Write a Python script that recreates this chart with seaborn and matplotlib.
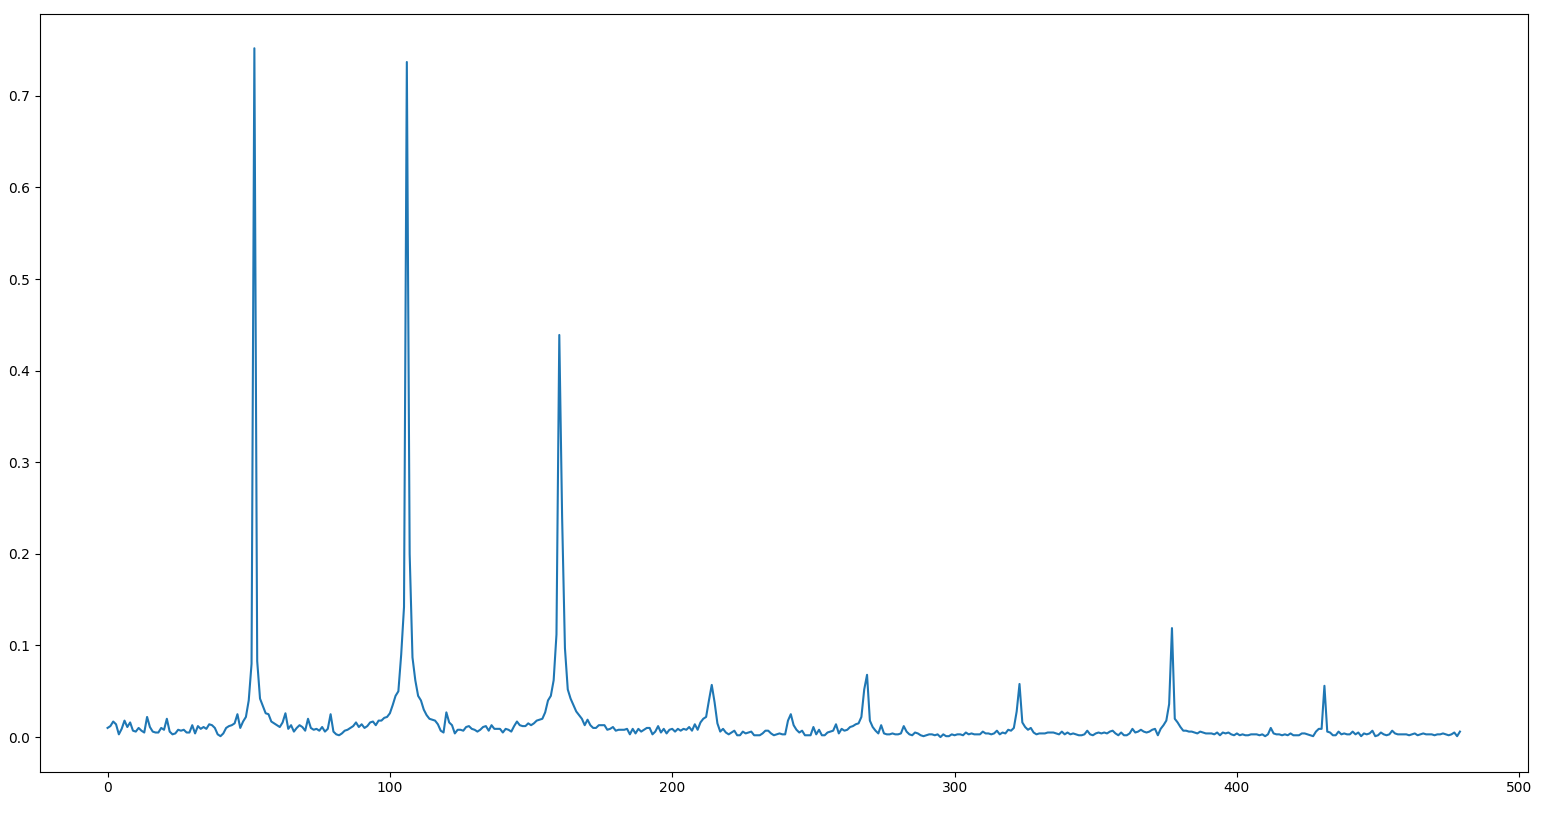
import matplotlib
matplotlib.use("Agg")
import matplotlib.pyplot as plt
import numpy as np
import seaborn as sns

# spectrum magnitude, one value per bin
magnitude = [
    0.010, 0.012, 0.017, 0.014, 0.003, 0.009, 0.018, 0.011, 0.016, 0.007,
    0.006, 0.010, 0.007, 0.005, 0.022, 0.011, 0.006, 0.005, 0.005, 0.010,
    0.008, 0.020, 0.006, 0.003, 0.004, 0.008, 0.007, 0.008, 0.005, 0.005,
    0.013, 0.004, 0.012, 0.009, 0.011, 0.009, 0.014, 0.013, 0.010, 0.003,
    0.001, 0.004, 0.010, 0.012, 0.013, 0.015, 0.025, 0.010, 0.017, 0.022,
    0.040, 0.080, 0.752, 0.083, 0.042, 0.034, 0.026, 0.025, 0.017, 0.015,
    0.013, 0.011, 0.016, 0.026, 0.009, 0.013, 0.006, 0.010, 0.013, 0.011,
    0.007, 0.020, 0.010, 0.008, 0.009, 0.007, 0.011, 0.006, 0.009, 0.025,
    0.006, 0.003, 0.002, 0.004, 0.007, 0.008, 0.010, 0.012, 0.016, 0.011,
    0.014, 0.010, 0.012, 0.016, 0.017, 0.013, 0.018, 0.018, 0.021, 0.022,
    0.026, 0.035, 0.045, 0.050, 0.090, 0.142, 0.737, 0.200, 0.087, 0.062,
    0.045, 0.040, 0.030, 0.024, 0.020, 0.019, 0.018, 0.014, 0.007, 0.005,
    0.027, 0.016, 0.013, 0.004, 0.008, 0.008, 0.007, 0.011, 0.012, 0.009,
    0.008, 0.006, 0.008, 0.011, 0.012, 0.007, 0.013, 0.009, 0.009, 0.009,
    0.005, 0.009, 0.008, 0.006, 0.012, 0.017, 0.013, 0.012, 0.012, 0.015,
    0.013, 0.015, 0.018, 0.019, 0.020, 0.027, 0.040, 0.045, 0.062, 0.112,
    0.439, 0.240, 0.097, 0.052, 0.042, 0.035, 0.028, 0.024, 0.020, 0.013,
    0.019, 0.013, 0.010, 0.010, 0.013, 0.013, 0.013, 0.008, 0.009, 0.011,
    0.007, 0.008, 0.008, 0.008, 0.009, 0.003, 0.009, 0.004, 0.009, 0.006,
    0.008, 0.010, 0.010, 0.003, 0.006, 0.012, 0.005, 0.009, 0.004, 0.008,
    0.009, 0.006, 0.009, 0.007, 0.009, 0.008, 0.011, 0.007, 0.014, 0.008,
    0.016, 0.020, 0.022, 0.040, 0.057, 0.038, 0.015, 0.006, 0.009, 0.005,
    0.003, 0.005, 0.007, 0.002, 0.002, 0.006, 0.004, 0.005, 0.006, 0.002,
    0.002, 0.002, 0.004, 0.007, 0.007, 0.004, 0.002, 0.003, 0.004, 0.003,
    0.003, 0.018, 0.025, 0.013, 0.008, 0.005, 0.007, 0.002, 0.002, 0.002,
    0.011, 0.003, 0.008, 0.002, 0.002, 0.005, 0.006, 0.007, 0.014, 0.004,
    0.009, 0.007, 0.008, 0.011, 0.012, 0.014, 0.015, 0.022, 0.052, 0.068,
    0.018, 0.011, 0.007, 0.004, 0.013, 0.004, 0.003, 0.003, 0.004, 0.003,
    0.003, 0.004, 0.012, 0.006, 0.003, 0.002, 0.005, 0.004, 0.002, 0.001,
    0.002, 0.003, 0.003, 0.002, 0.003, 0.000, 0.003, 0.001, 0.001, 0.003,
    0.002, 0.003, 0.003, 0.002, 0.005, 0.003, 0.004, 0.003, 0.003, 0.003,
    0.006, 0.004, 0.004, 0.003, 0.004, 0.007, 0.003, 0.005, 0.004, 0.008,
    0.007, 0.010, 0.028, 0.058, 0.016, 0.011, 0.008, 0.010, 0.005, 0.003,
    0.004, 0.004, 0.004, 0.005, 0.005, 0.005, 0.004, 0.003, 0.006, 0.003,
    0.005, 0.003, 0.004, 0.003, 0.002, 0.002, 0.003, 0.007, 0.003, 0.002,
    0.004, 0.005, 0.004, 0.005, 0.004, 0.006, 0.007, 0.004, 0.002, 0.005,
    0.002, 0.002, 0.004, 0.009, 0.005, 0.006, 0.008, 0.006, 0.005, 0.006,
    0.008, 0.009, 0.002, 0.009, 0.013, 0.018, 0.036, 0.119, 0.020, 0.016,
    0.011, 0.007, 0.007, 0.006, 0.006, 0.005, 0.004, 0.006, 0.005, 0.004,
    0.004, 0.004, 0.003, 0.005, 0.002, 0.005, 0.004, 0.005, 0.003, 0.002,
    0.004, 0.002, 0.003, 0.002, 0.002, 0.003, 0.003, 0.003, 0.002, 0.003,
    0.001, 0.003, 0.010, 0.004, 0.003, 0.003, 0.002, 0.003, 0.002, 0.004,
    0.002, 0.002, 0.002, 0.004, 0.004, 0.003, 0.002, 0.001, 0.006, 0.009,
    0.009, 0.056, 0.006, 0.005, 0.002, 0.002, 0.006, 0.003, 0.004, 0.003,
    0.003, 0.006, 0.003, 0.005, 0.001, 0.004, 0.003, 0.004, 0.007, 0.001,
    0.002, 0.005, 0.003, 0.002, 0.003, 0.007, 0.004, 0.003, 0.003, 0.003,
    0.003, 0.002, 0.003, 0.004, 0.002, 0.003, 0.004, 0.003, 0.003, 0.003,
    0.002, 0.003, 0.003, 0.004, 0.003, 0.002, 0.003, 0.005, 0.001, 0.006,
]
bins = np.arange(len(magnitude))

fig = plt.figure(figsize=(15.48, 8.13), dpi=100)
ax = fig.add_axes([0.0258, 0.051, 0.961, 0.932])
sns.lineplot(x=bins, y=magnitude, ax=ax, color="#1f77b4", linewidth=1.5)

fig.savefig("out.png", dpi=100)
